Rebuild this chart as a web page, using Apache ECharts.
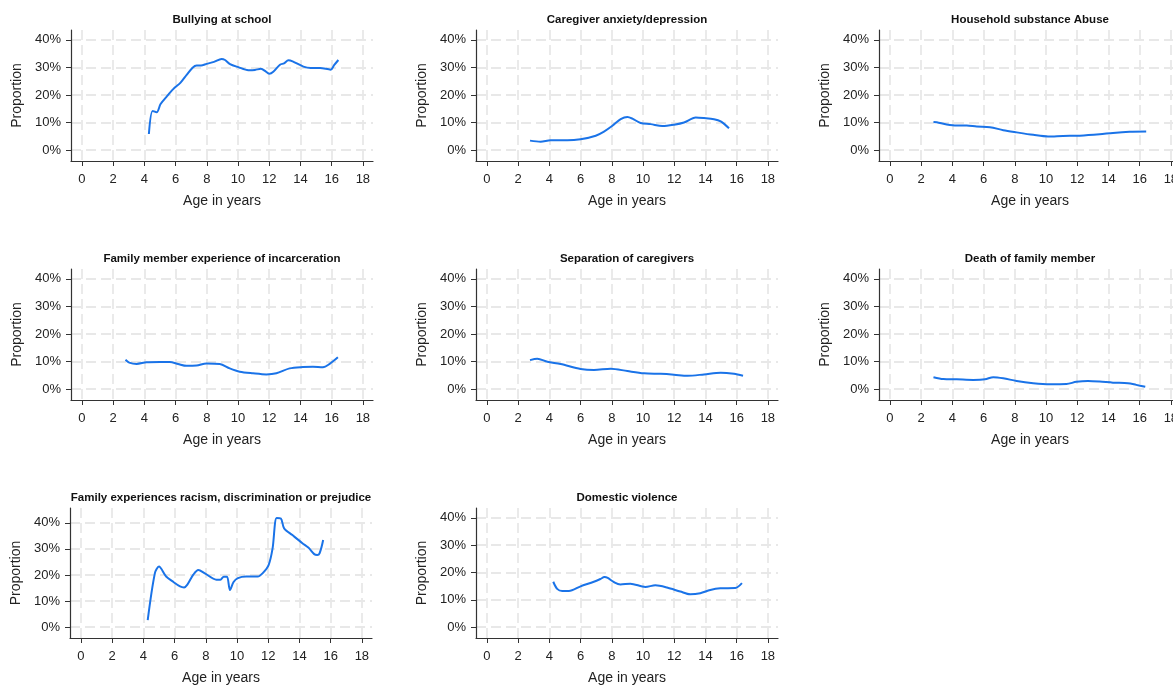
<!DOCTYPE html>
<html>
<head>
<meta charset="utf-8">
<script src="https://cdn.jsdelivr.net/npm/echarts@6/dist/echarts.min.js"></script>
<style>
html, body { margin: 0; padding: 0; background: #fff; overflow: hidden; }
#chart { width: 1200px; height: 686px; }
</style>
</head>
<body>
<div id="chart"></div>
<script>
// tick values shared by every panel
const xTicks = [0, 2, 4, 6, 8, 10, 12, 14, 16, 18];
const yTicks = [0, 10, 20, 30, 40];

// [age, percent]
const bullying = [[4.29, 5.8], [4.53, 14.2], [4.79, 13.7], [5.04, 16.7], [5.43, 19.4], [5.85, 22.1],
	[6.32, 24.5], [6.71, 27.3], [7.09, 29.9], [7.35, 30.7], [7.63, 30.7], [7.99, 31.3], [8.46, 32],
	[8.95, 33.1], [9.17, 32.7], [9.49, 31.2], [10.02, 30.1], [10.66, 29], [11.09, 29.1], [11.47, 29.5],
	[11.79, 28.5], [12.01, 27.7], [12.26, 28.4], [12.69, 31], [12.95, 31.5], [13.23, 32.6], [13.5, 32.2],
	[14.19, 30.3], [14.66, 29.8], [15.26, 29.8], [15.94, 29.2], [16.17, 30.9], [16.43, 32.7]];
const caregiverAnxiety = [[2.76, 3.4], [3.44, 3.0], [4.08, 3.5], [5.15, 3.5], [6.0, 3.9], [6.97, 5.2],
	[7.5, 6.7], [8.04, 8.8], [8.57, 11.2], [9.0, 12], [9.32, 11.4], [9.85, 9.8], [10.49, 9.4],
	[11.24, 8.7], [11.99, 9.2], [12.63, 10], [13.38, 11.8], [13.91, 11.6], [14.55, 11.2], [14.98, 10.4],
	[15.51, 7.9]];
const substanceAbuse = [[2.79, 10.2], [3.0, 10.1], [3.64, 9.3], [4.28, 8.9], [4.92, 8.9], [5.56, 8.5],
	[6.41, 8.3], [7.26, 7.2], [8.12, 6.4], [9.18, 5.5], [10.13, 4.9], [11.09, 5.1], [12.16, 5.2],
	[13.44, 5.7], [14.29, 6.2], [15.35, 6.6], [16.42, 6.7]];
const incarceration = [[2.79, 10.6], [3.03, 9.6], [3.5, 9.1], [4.14, 9.7], [4.99, 9.8], [5.63, 9.8],
	[6.16, 9.1], [6.7, 8.4], [7.34, 8.5], [7.98, 9.3], [8.83, 9.1], [9.47, 7.5], [10.11, 6.3],
	[10.96, 5.7], [11.82, 5.3], [12.46, 5.7], [13.31, 7.5], [14.16, 8.0], [14.8, 8.1], [15.44, 7.9],
	[15.87, 9.1], [16.4, 11.5]];
const separation = [[2.76, 10.5], [3.23, 11.0], [3.87, 9.9], [4.72, 9.1], [6.0, 7.3], [6.86, 6.9],
	[7.93, 7.4], [9.0, 6.5], [10.06, 5.7], [11.13, 5.5], [11.99, 5.2], [12.85, 4.8], [13.91, 5.3],
	[14.98, 5.9], [15.83, 5.5], [16.41, 4.8]];
const familyDeath = [[2.79, 4.3], [3.42, 3.6], [4.28, 3.5], [5.34, 3.3], [6.09, 3.5], [6.62, 4.3],
	[7.26, 3.9], [8.12, 2.9], [9.18, 2.1], [10.24, 1.7], [11.31, 1.8], [11.95, 2.6], [12.69, 2.9],
	[13.44, 2.7], [14.29, 2.3], [15.25, 2.1], [15.78, 1.5], [16.36, 0.8]];
const racism = [[4.28, 2.7], [4.74, 20.7], [5.0, 23.2], [5.46, 19.4], [5.93, 17.3], [6.35, 15.6],
	[6.61, 15.2], [6.82, 16.3], [7.2, 20.1], [7.52, 21.9], [7.94, 20.6], [8.68, 18.2], [8.94, 18.2],
	[9.15, 19.3], [9.36, 19.3], [9.55, 14.2], [9.78, 17.3], [10.06, 18.8], [10.59, 19.4], [11.33, 19.4],
	[11.65, 20.7], [12.03, 23.9], [12.28, 30.2], [12.54, 41.9], [12.81, 41.7], [13.02, 37.9],
	[13.55, 35.3], [14.19, 32.2], [14.57, 30.5], [14.95, 28], [15.14, 27.7], [15.29, 28.3], [15.52, 33.4]];
const domesticViolence = [[4.25, 16.6], [4.5, 14.0], [4.82, 13.2], [5.25, 13.2], [6.0, 14.9], [6.85, 16.6],
	[7.27, 17.6], [7.53, 18.3], [7.74, 18.0], [8.13, 16.5], [8.55, 15.6], [9.19, 15.9], [10.15, 14.7],
	[10.79, 15.3], [11.54, 14.5], [12.39, 13.0], [13.03, 12.0], [13.67, 12.4], [14.31, 13.6],
	[14.95, 14.2], [15.91, 14.3], [16.34, 16.1]];

const panels = [
	{ title: 'Bullying at school', data: bullying, left: 71, top: 30 },
	{ title: 'Caregiver anxiety/depression', data: caregiverAnxiety, left: 476, top: 30 },
	{ title: 'Household substance Abuse', data: substanceAbuse, left: 879, top: 30 },
	{ title: 'Family member experience of incarceration', data: incarceration, left: 71, top: 269 },
	{ title: 'Separation of caregivers', data: separation, left: 476, top: 269 },
	{ title: 'Death of family member', data: familyDeath, left: 879, top: 269 },
	{ title: 'Family experiences racism, discrimination or prejudice', data: racism, left: 70, top: 508, ymin: -4.2, ymax: 45.7 },
	{ title: 'Domestic violence', data: domesticViolence, left: 476, top: 508 }
];

const font = "'Liberation Sans', Arial, sans-serif";
const W = 302, H = 131;
const gridLine = { show: true, lineStyle: { color: '#e8e8e8', width: 1.8, type: [10, 5] } };
const axisLine = { onZero: false, lineStyle: { color: '#333', width: 1.2 } };

let myChart = echarts.init(document.getElementById('chart'));
let option = {
	animation: false,
	backgroundColor: '#fff',
	grid: [], xAxis: [], yAxis: [], series: [], graphic: []
};

panels.forEach(function(p, i) {
	option.grid.push({ left: p.left, top: p.top, width: W, height: H });
	option.xAxis.push({
		type: 'value', gridIndex: i, min: -0.7, max: 18.65,
		name: 'Age in years', nameLocation: 'middle', nameGap: 33,
		nameTextStyle: { fontFamily: font, fontSize: 14, color: '#222' },
		axisLine: axisLine,
		axisTick: { show: true, length: 5, customValues: xTicks, lineStyle: { color: '#333' } },
		axisLabel: { customValues: xTicks, margin: 12, fontFamily: font, fontSize: 13, color: '#222' },
		splitLine: Object.assign({ customValues: xTicks }, gridLine)
	});
	option.yAxis.push({
		type: 'value', gridIndex: i, min: p.ymin ?? -4, max: p.ymax ?? 43.6,
		name: 'Proportion', nameLocation: 'middle', nameGap: 47,
		nameTextStyle: { fontFamily: font, fontSize: 14, color: '#222' },
		axisLine: Object.assign({ show: true }, axisLine),
		axisTick: { show: true, length: 5, customValues: yTicks, lineStyle: { color: '#333' } },
		axisLabel: { customValues: yTicks, margin: 10, fontFamily: font, fontSize: 13, color: '#222',
			formatter: v => v + '%' },
		splitLine: Object.assign({ customValues: yTicks }, gridLine)
	});
	option.series.push({
		type: 'line', xAxisIndex: i, yAxisIndex: i, data: p.data,
		showSymbol: false, symbol: 'none', smooth: 0.3,
		lineStyle: { color: '#1a73e8', width: 2 }
	});
	option.graphic.push({
		type: 'text', x: p.left + W / 2, y: p.top - 10,
		style: { text: p.title, align: 'center', verticalAlign: 'middle',
			font: 'bold 11.5px ' + font, fill: '#111' }
	});
});

myChart.setOption(option);
</script>
</body>
</html>
